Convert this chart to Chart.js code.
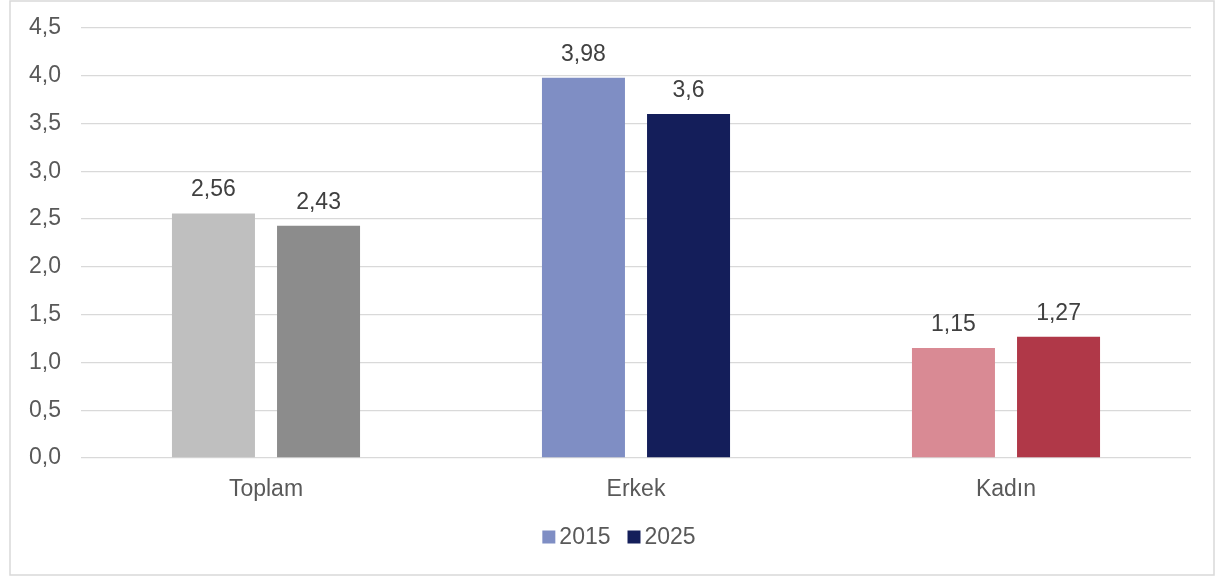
<!DOCTYPE html>
<html>
<head>
<meta charset="utf-8">
<script src="https://cdn.jsdelivr.net/npm/chart.js@4"></script>
<style>
  html, body { margin: 0; padding: 0; background: #fff; }
  #wrap { width: 1220px; height: 578px; position: relative; }
</style>
</head>
<body>
<div id="wrap"><canvas id="chart"></canvas></div>
<script>
// Chart data
const categories = ['Toplam', 'Erkek', 'Kadın'];
const seriesNames = ['2015', '2025'];
const values2015 = [2.56, 3.98, 1.15];
const values2025 = [2.43, 3.6, 1.27];

// Each category has its own pair of colours
const colors2015 = ['#BFBFBF', '#7F8EC4', '#D98A94'];
const colors2025 = ['#8C8C8C', '#141E5A', '#B03848'];
const legendColors = ['#7F8EC4', '#141E5A'];

const FONT = '"Liberation Sans", Arial, sans-serif';
const FONT_SIZE = 23;

function fmt(v) {
    return String(v).replace('.', ',');
}

// Draws the value above each bar
const valueLabels = {
    id: 'valueLabels',
    afterDatasetsDraw(chart) {
        const ctx = chart.ctx;
        ctx.save();
        ctx.font = FONT_SIZE + 'px ' + FONT;
        ctx.fillStyle = '#404040';
        ctx.textAlign = 'center';
        ctx.textBaseline = 'alphabetic';
        chart.data.datasets.forEach((ds, i) => {
            const meta = chart.getDatasetMeta(i);
            meta.data.forEach((bar, j) => {
                ctx.fillText(fmt(ds.data[j]), bar.x, bar.y - 17);
            });
        });
        ctx.restore();
    }
};

// Light frame round the whole chart and a compact legend at the bottom
const frameAndLegend = {
    id: 'frameAndLegend',
    beforeDraw(chart) {
        const ctx = chart.ctx;
        ctx.save();
        ctx.strokeStyle = '#D9D9D9';
        ctx.lineWidth = 1.5;
        ctx.strokeRect(10, 1, 1204, 574);
        ctx.restore();
    },
    afterDraw(chart) {
        const ctx = chart.ctx;
        const box = 13, gap = 4, itemGap = 17;
        ctx.save();
        ctx.font = FONT_SIZE + 'px ' + FONT;
        ctx.textBaseline = 'middle';
        ctx.textAlign = 'left';
        const widths = seriesNames.map(n => box + gap + ctx.measureText(n).width);
        const total = widths.reduce((a, b) => a + b, 0) + itemGap * (widths.length - 1);
        const area = chart.chartArea;
        // legend sits a little left of the plot centre, as in the original
        let x = (area.left + area.right) / 2 - total / 2 - 17;
        const y = 537;
        seriesNames.forEach((name, i) => {
            ctx.fillStyle = legendColors[i];
            ctx.fillRect(x, y - box / 2, box, box);
            ctx.fillStyle = '#595959';
            ctx.fillText(name, x + box + gap, y + 1);
            x += widths[i] + itemGap;
        });
        ctx.restore();
    }
};

new Chart(document.getElementById('chart'), {
    type: 'bar',
    data: {
        labels: categories,
        datasets: [{
            label: seriesNames[0],
            data: values2015,
            backgroundColor: colors2015
        }, {
            label: seriesNames[1],
            data: values2025,
            backgroundColor: colors2025
        }]
    },
    options: {
        responsive: true,
        maintainAspectRatio: false,
        animation: false,
        datasets: {
            bar: {
                categoryPercentage: 0.568,
                barPercentage: 0.79
            }
        },
        layout: {
            padding: { left: 9, right: 29, top: 28, bottom: 62 }
        },
        scales: {
            x: {
                grid: { display: false, drawTicks: false },
                border: { display: false },
                ticks: {
                    padding: 18,
                    color: '#595959',
                    font: { family: FONT, size: FONT_SIZE }
                },
                afterFit(scale) { scale.height = 58; }
            },
            y: {
                min: 0,
                max: 4.5,
                grid: { color: '#D9D9D9', lineWidth: 1.3, drawTicks: false },
                border: { display: false },
                ticks: {
                    stepSize: 0.5,
                    padding: 20,
                    color: '#595959',
                    font: { family: FONT, size: FONT_SIZE },
                    callback: v => v.toFixed(1).replace('.', ',')
                },
                afterFit(scale) {
                    scale.width = 72;
                    // keep the plot area where the original has it
                    scale.paddingTop = 0;
                    scale.paddingBottom = 0;
                }
            }
        },
        plugins: {
            tooltip: { enabled: false },
            legend: { display: false }
        }
    },
    plugins: [frameAndLegend, valueLabels]
});
</script>
</body>
</html>
